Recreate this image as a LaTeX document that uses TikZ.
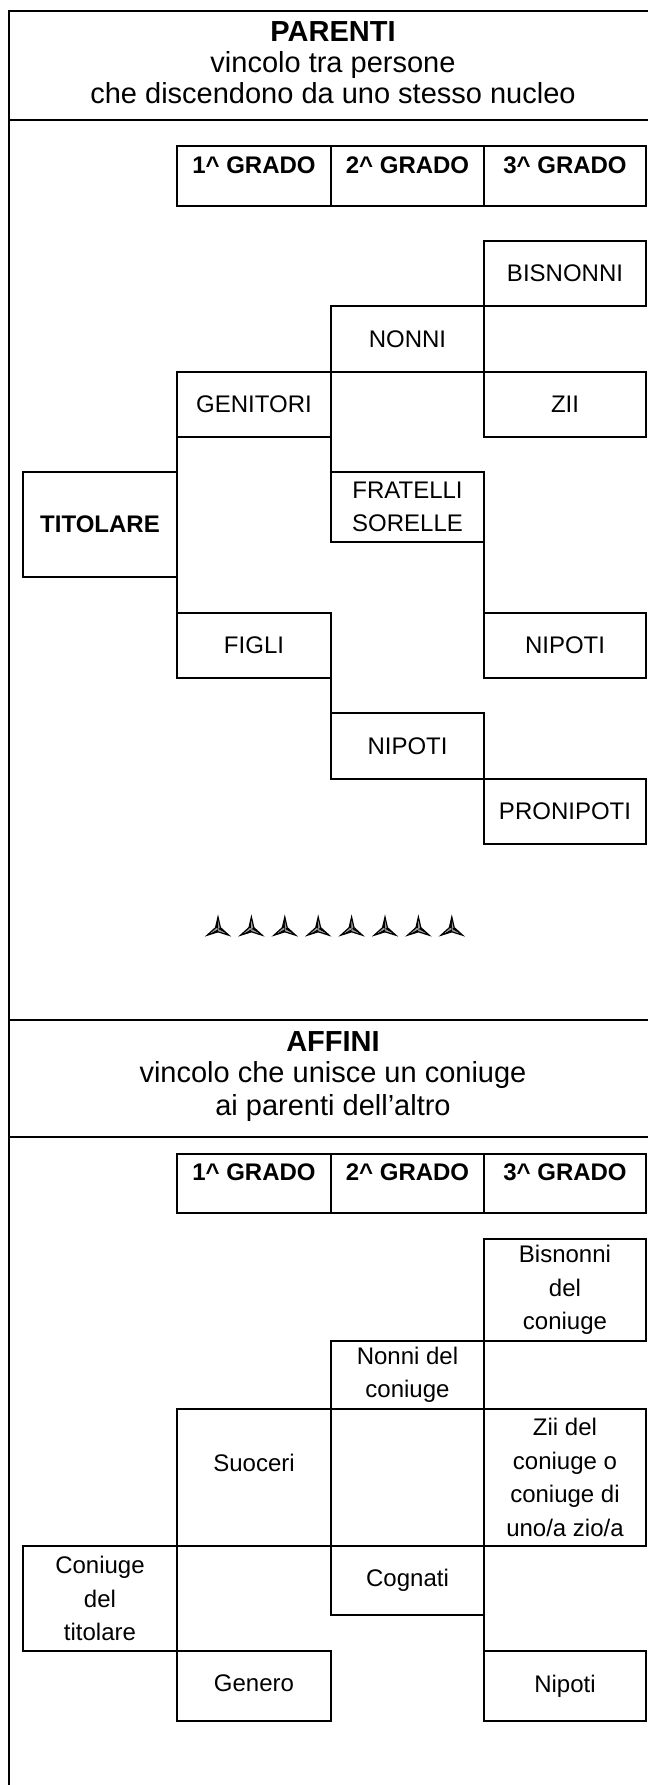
\documentclass[tikz,border=0pt]{standalone}
\usepackage{fontspec}
\setmainfont{Liberation Sans}
\tikzset{
  tristar/.pic={
    \fill[black]     (0,0) -- (0,-12) -- (-2.4,-1.4) -- cycle;
    \fill[black!40]  (0,0) -- (0,-12) -- (2.4,-1.4) -- cycle;
    \fill[black]     (0,0) -- (10.8,6.2) -- (2.4,-1.4) -- cycle;
    \fill[black!40]  (0,0) -- (10.8,6.2) -- (0,2.8) -- cycle;
    \fill[black]     (0,0) -- (-10.8,6.2) -- (0,2.8) -- cycle;
    \fill[black!40]  (0,0) -- (-10.8,6.2) -- (-2.4,-1.4) -- cycle;
    \draw[line width=0.6pt, line join=miter] (0,-12) -- (2.4,-1.4) -- (10.8,6.2) -- (0,2.8) -- (-10.8,6.2) -- (-2.4,-1.4) -- cycle;
  }
}
\begin{document}
\begin{tikzpicture}[x=0.5pt,y=-0.5pt,
  bx/.style={draw, line width=1pt, inner sep=0pt, outer sep=0pt, align=center,
             font=\fontsize{12}{16.75}\selectfont},
  txt/.style={inner sep=0pt, align=center, font=\fontsize{12}{16.75}\selectfont},
  gradotxt/.style={inner sep=0pt, font=\bfseries\fontsize{12}{16.75}\selectfont},
  hdrb/.style={inner sep=0pt, font=\bfseries\fontsize{14.5}{16}\selectfont},
  hdr/.style={inner sep=0pt, align=center, font=\fontsize{14.5}{#1}\selectfont},
  rule/.style={line width=1pt},
  conn/.style={line width=1pt},
  wh/.style 2 args={minimum width=#1*0.5pt, minimum height=#2*0.5pt},
]
\useasboundingbox (0,0) rectangle (648,1785);
\clip (0,0) rectangle (648,1785);

% frame and separators
\draw[rule] (9,1800) -- (9,11) -- (670,11);
\draw[rule] (9,120) -- (670,120);
\draw[rule] (9,1020) -- (670,1020);
\draw[rule] (9,1137) -- (670,1137);

% ===== PARENTI =====
\node[hdrb] (parenti) at (333,32) {PARENTI};
\node[hdr=15.5] (parentisub) at (333,78) {vincolo tra persone\\che discendono da uno stesso nucleo};

\node[bx, wh={154}{60}] (pg1) at (254,176) {};
\node[bx, wh={153}{60}] (pg2) at (407.5,176) {};
\node[bx, wh={162}{60}] (pg3) at (565,176) {};
\node[gradotxt] (pg1t) at (254,165) {1\textasciicircum{} GRADO};
\node[gradotxt] (pg2t) at (407.5,165) {2\textasciicircum{} GRADO};
\node[gradotxt] (pg3t) at (565,165) {3\textasciicircum{} GRADO};

\node[bx, wh={162}{65}] (bisnonni) at (565,273.5) {BISNONNI};
\node[bx, wh={153}{66}] (nonni) at (407.5,339) {NONNI};
\node[bx, wh={154}{65}] (genitori) at (254,404.5) {GENITORI};
\node[bx, wh={162}{65}] (zii) at (565,404.5) {ZII};
\node[bx, wh={154}{105}, font=\bfseries\fontsize{12}{16.75}\selectfont] (titolare) at (100,524.5) {TITOLARE};
\node[bx, wh={153}{70}] (fratelli) at (407.5,507) {FRATELLI\\SORELLE};
\node[bx, wh={154}{65}] (figli) at (254,645.5) {FIGLI};
\node[bx, wh={162}{65}] (nipotiR) at (565,645.5) {NIPOTI};
\node[bx, wh={153}{66}] (nipotiM) at (407.5,746) {NIPOTI};
\node[bx, wh={162}{65}] (pronipoti) at (565,811.5) {PRONIPOTI};

\draw[conn] (genitori.south west) -- (titolare.north east);
\draw[conn] (titolare.south east) -- (figli.north west);
\draw[conn] (genitori.south east) -- (fratelli.north west);
\draw[conn] (fratelli.south east) -- (nipotiR.north west);
\draw[conn] (figli.south east) -- (nipotiM.north west);

\foreach \i in {0,...,7} {\pic at ({218+33.4*\i},929) {tristar};}

% ===== AFFINI =====
\node[hdrb] (affini) at (333,1042) {AFFINI};
\node[hdr=16.5] (affinisub) at (333,1091.5) {vincolo che unisce un coniuge\\ai parenti dell’altro};

\node[bx, wh={154}{59}] (ag1) at (254,1183.5) {};
\node[bx, wh={153}{59}] (ag2) at (407.5,1183.5) {};
\node[bx, wh={162}{59}] (ag3) at (565,1183.5) {};
\node[gradotxt] (ag1t) at (254,1172) {1\textasciicircum{} GRADO};
\node[gradotxt] (ag2t) at (407.5,1172) {2\textasciicircum{} GRADO};
\node[gradotxt] (ag3t) at (565,1172) {3\textasciicircum{} GRADO};

\node[bx, wh={162}{102}] (abisnonni) at (565,1290) {Bisnonni\\del\\coniuge};
\node[bx, wh={153}{68}] (anonni) at (407.5,1375) {Nonni del\\coniuge};
\node[bx, wh={154}{137}] (suoceri) at (254,1477.5) {};
\node[txt] (suocerit) at (254,1463) {Suoceri};
\node[bx, wh={162}{137}] (azii) at (565,1477.5) {Zii del\\coniuge o\\coniuge di\\uno/a zio/a};
\node[bx, wh={154}{105}] (coniuge) at (100,1598.5) {Coniuge\\del\\titolare};
\node[bx, wh={153}{69}] (cognati) at (407.5,1580.5) {Cognati};
\node[bx, wh={154}{70}] (genero) at (254,1686) {};
\node[txt] (generot) at (254,1683) {Genero};
\node[bx, wh={162}{70}] (anipoti) at (565,1686) {Nipoti};

\draw[conn] (cognati.south east) -- (anipoti.north west);
\end{tikzpicture}
\end{document}
